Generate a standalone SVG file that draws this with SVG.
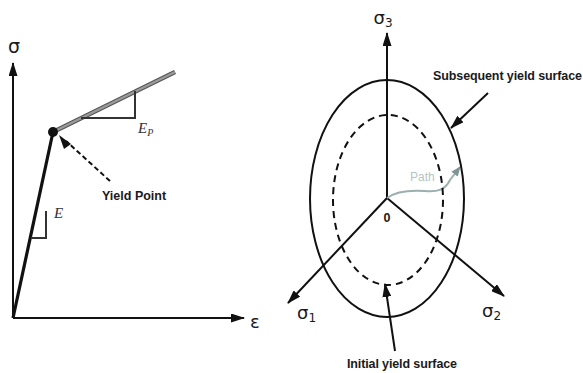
<svg xmlns="http://www.w3.org/2000/svg" width="583" height="373" viewBox="0 0 583 373">
<defs>
<marker id="ahb" viewBox="0 0 14 9" refX="13" refY="4.5" markerWidth="14" markerHeight="9" orient="auto" markerUnits="userSpaceOnUse"><path d="M0,0 L14,4.5 L0,9 z" fill="#111"/></marker>
<marker id="ahg" viewBox="0 0 10 8" refX="9" refY="4" markerWidth="10" markerHeight="8" orient="auto" markerUnits="userSpaceOnUse"><path d="M0,0 L10,4 L0,8 z" fill="#7f9494"/></marker>
</defs>
<style>
.ax{stroke:#111;stroke-width:2;fill:none}
.lbl{font-family:"Liberation Sans",Arial,sans-serif;font-weight:bold;font-size:12.5px;fill:#1a1a1a}
.gr{font-family:"DejaVu Sans","Liberation Sans",sans-serif;fill:#1a1a1a}
.it{font-family:"Liberation Serif","Times New Roman",serif;font-style:italic;fill:#333}
</style>
<rect width="583" height="373" fill="#fff"/>
<g id="connectors">
<line class="ax" x1="13" y1="318" x2="13" y2="63" marker-end="url(#ahb)"/>
<line class="ax" x1="13" y1="318" x2="244" y2="318" marker-end="url(#ahb)"/>
<line x1="13" y1="318" x2="53" y2="132" stroke="#111" stroke-width="3.2"/>
<line x1="53" y1="132" x2="175" y2="72" stroke="#555" stroke-width="4.5"/>
<line x1="53" y1="132" x2="175" y2="72" stroke="#9a9a9a" stroke-width="2.5"/>
<polyline points="81,118 135,118 135,91" fill="none" stroke="#333" stroke-width="2"/>
<polyline points="31,238 46,238 46,211" fill="none" stroke="#333" stroke-width="2"/>
<line x1="110" y1="181" x2="66" y2="141" stroke="#111" stroke-width="2" stroke-dasharray="5,3"/>
<path d="M71,144 L59,135 L64,149 z" fill="#111"/>
<line class="ax" x1="387" y1="198" x2="387" y2="33" marker-end="url(#ahb)"/>
<line class="ax" x1="387" y1="198" x2="288" y2="303" marker-end="url(#ahb)"/>
<line class="ax" x1="387" y1="198" x2="504" y2="296" marker-end="url(#ahb)"/>
<path d="M387,198 C395,192 410,190 425,191 C438,192 445,190 450,180 L460,167" fill="none" stroke="#9bafaf" stroke-width="2" marker-end="url(#ahg)"/>
<line x1="488" y1="93" x2="451" y2="128" stroke="#111" stroke-width="2" marker-end="url(#ahb)"/>
<line x1="395" y1="351" x2="385" y2="284" stroke="#111" stroke-width="2" marker-end="url(#ahb)"/>
</g>
<g id="yield-dot"><circle cx="53" cy="132" r="5" fill="#111"/></g>
<g id="outer-surface"><ellipse cx="387" cy="198.5" rx="77" ry="118.5" fill="none" stroke="#111" stroke-width="2"/></g>
<g id="initial-surface"><ellipse cx="388" cy="200" rx="55" ry="85" fill="none" stroke="#111" stroke-width="2" stroke-dasharray="7,5"/></g>
<g id="labels">
<text class="gr" x="14" y="53" font-size="19" text-anchor="middle">σ</text>
<text class="gr" x="250" y="328" font-size="18">ε</text>
<text class="it" x="138" y="133" font-size="15">E<tspan font-size="10" dy="3">P</tspan></text>
<text class="it" x="54" y="218" font-size="15">E</text>
<text class="lbl" x="102" y="200">Yield Point</text>
<text class="gr" x="383" y="24" font-size="18" text-anchor="middle">σ<tspan font-size="12" dy="3">3</tspan></text>
<text class="gr" x="297" y="319" font-size="18">σ<tspan font-size="12" dy="3">1</tspan></text>
<text class="gr" x="482" y="317" font-size="18">σ<tspan font-size="12" dy="3">2</tspan></text>
<text class="lbl" x="387" y="222" font-size="15" text-anchor="middle">0</text>
<text x="410" y="181" font-family="Liberation Sans,Arial,sans-serif" font-size="12" fill="#b3c6c6">Path</text>
<text class="lbl" x="433" y="80" textLength="149">Subsequent yield surface</text>
<text class="lbl" x="347" y="368" textLength="110">Initial yield surface</text>
</g>
</svg>
